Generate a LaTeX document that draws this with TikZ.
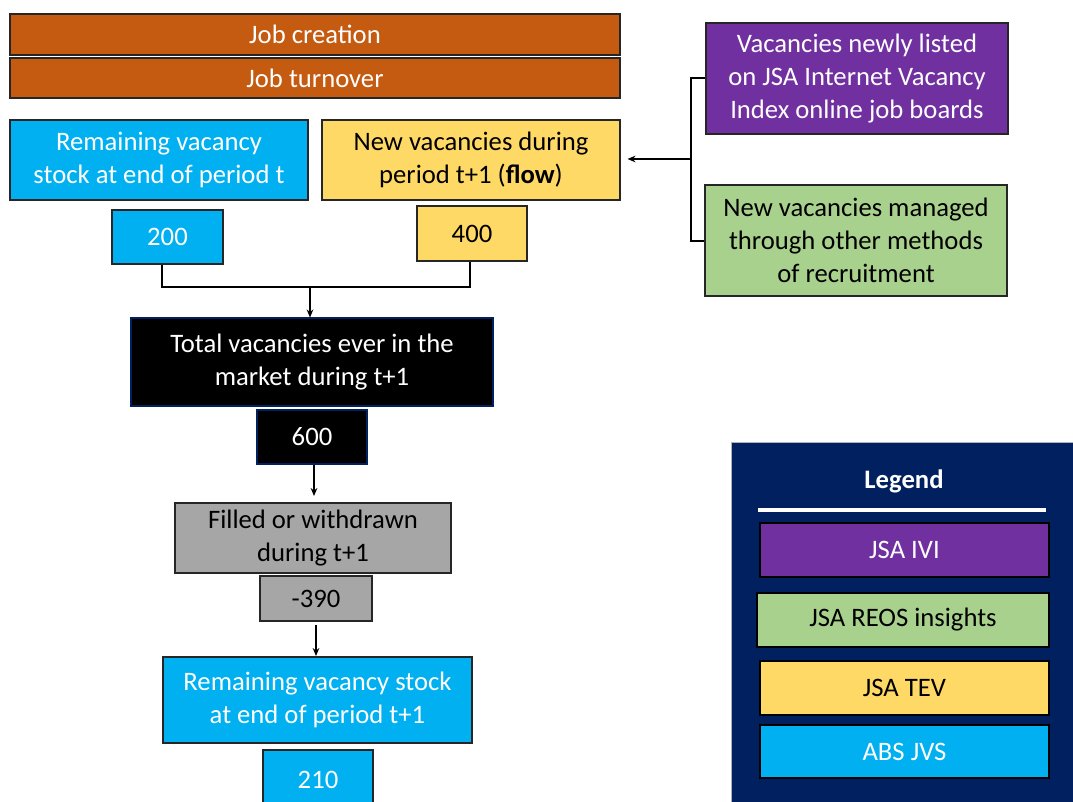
\documentclass[tikz,border=0pt]{standalone}
\usepackage{fontspec}
\setmainfont{Carlito}
\usetikzlibrary{arrows.meta}
\definecolor{corange}{HTML}{C55A11}
\definecolor{cblue}{HTML}{00B0F0}
\definecolor{cyellow}{HTML}{FFD966}
\definecolor{cpurple}{HTML}{7030A0}
\definecolor{cgreen}{HTML}{A9D18E}
\definecolor{cgray}{HTML}{A6A6A6}
\definecolor{cnavy}{HTML}{002060}
\definecolor{cedge}{HTML}{262626}
\begin{document}
\begin{tikzpicture}[x=0.75pt,y=-0.75pt,
  box/.style={draw=cedge, line width=0.8pt, align=center, inner sep=0pt,
    font=\fontsize{20}{24.5}\selectfont},
  wbox/.style={box, text=white},
  bbox/.style={box, text=black},
  conn/.style={line width=1.5pt, black},
  arr/.style={conn, -{Stealth[length=6pt,width=5pt]}}]
\useasboundingbox (0,0) rectangle (1073,802);
\begin{scope}
\clip (0,0) rectangle (1073,802);
% top bars
\node[wbox, fill=corange, minimum width=457.5pt, minimum height=30.75pt] (jc) at (315,34.5) {Job creation};
\node[wbox, fill=corange, minimum width=457.5pt, minimum height=30pt] (jt) at (315,78) {Job turnover};
% second row
\node[wbox, fill=cblue, minimum width=223.5pt, minimum height=60pt] (rem) at (159,160) {Remaining vacancy\\stock at end of period t};
\node[bbox, fill=cyellow, minimum width=223.5pt, minimum height=60pt] (newv) at (471,160) {New vacancies during\\period t+1 (\textbf{flow})};
\node[wbox, fill=cblue, minimum width=83.25pt, minimum height=40.5pt] (n200) at (167.5,237) {200};
\node[bbox, fill=cyellow, minimum width=82.5pt, minimum height=41.25pt] (n400) at (472,233.5) {400};
% middle
\node[wbox, fill=black, draw=cnavy, minimum width=271.5pt, minimum height=66pt] (total) at (312,362) {Total vacancies ever in the\\market during t+1};
\node[wbox, fill=black, draw=cnavy, minimum width=82.5pt, minimum height=40.5pt] (n600) at (312,437) {600};
\node[bbox, fill=cgray, minimum width=207pt, minimum height=52.5pt] (filled) at (313,538) {Filled or withdrawn\\during t+1};
\node[bbox, fill=cgray, minimum width=84pt, minimum height=33.75pt] (n390) at (316,598.5) {-390};
\node[wbox, fill=cblue, minimum width=231.75pt, minimum height=64.5pt] (rem2) at (317.5,700) {Remaining vacancy stock\\at end of period t+1};
\node[wbox, fill=cblue, minimum width=82.5pt, minimum height=45pt] (n210) at (318,780) {210};
% right sources
\node[wbox, fill=cpurple, minimum width=226.5pt, minimum height=83.25pt] (ivi) at (857,78.5) {Vacancies newly listed\\on JSA Internet Vacancy\\Index online job boards};
\node[bbox, fill=cgreen, minimum width=226.5pt, minimum height=83.25pt] (oth) at (856,240.5) {New vacancies managed\\through other methods\\of recruitment};
% legend
\fill[cnavy] (731,442) rectangle (1080,810);
\draw[gray!60, line width=0.6pt] (731,810) -- (731,442) -- (1080,442);
\node[text=white, font=\fontsize{20}{24}\selectfont\bfseries] (legt) at (904,481) {Legend};
\coordinate (ll) at (758,510);
\coordinate (lr) at (1046,510);
\draw[white, line width=3pt] (ll) -- (lr);
\node[wbox, draw=black, fill=cpurple, minimum width=216.75pt, minimum height=40.5pt] (l1) at (904.5,550) {JSA IVI};
\node[bbox, draw=black, fill=cgreen, minimum width=219pt, minimum height=40.5pt] (l2) at (903,620) {JSA REOS insights};
\node[bbox, draw=black, fill=cyellow, minimum width=216.75pt, minimum height=40.5pt] (l3) at (904.5,688) {JSA TEV};
\node[wbox, draw=black, fill=cblue, minimum width=216.75pt, minimum height=39.75pt] (l4) at (904.5,751.5) {ABS JVS};
% connectors
\coordinate (jn) at (310,287);
\draw[conn] (n200.south -| 162,0) |- (jn) -| (n400.south -| 470,0);
\draw[arr] (jn) -- (jn |- total.north);
\draw[arr] (n600.south -| 314,0) -- (314,496);
\draw[arr] (n390.south -| 316,0) ++(0,3) -- (316,656);
\coordinate (bj) at (691,159);
\draw[conn] (ivi.west) -- (691,78.5) |- (oth.west);
\draw[arr] (bj) -- ([xshift=5.25pt]newv.east |- bj);
\end{scope}
\end{tikzpicture}
\end{document}
